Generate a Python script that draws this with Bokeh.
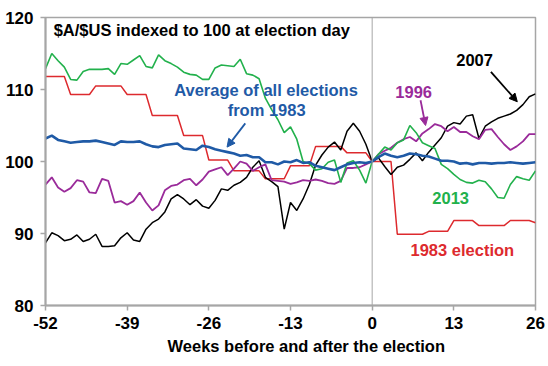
from bokeh.plotting import figure
from bokeh.models import Range1d, Span, Arrow, NormalHead, FixedTicker, Label, Title
from bokeh.embed import file_html
from bokeh.resources import INLINE

weeks = list(range(-52, 27))

e1983 = [111.8, 111.8, 111.8, 111.8, 109.3, 109.3, 109.3, 109.3,
         110.5, 110.5, 110.5, 110.5, 110.5, 109.3, 109.3, 109.3, 109.3,
         106.4, 106.4, 106.4, 106.4, 106.4, 103.6, 103.6, 103.6, 103.6,
         100.2, 100.2, 100.2, 100.2, 98.7, 98.7, 98.7, 98.7, 98.7,
         97.6, 97.6, 97.6, 97.6, 99.4, 99.4, 99.4, 99.4,
         102.1, 102.1, 102.1, 102.1, 102.1, 101.2, 101.2, 101.2, 101.2,
         100.0, 100.0, 100.0, 100.0, 89.9, 89.9, 89.9, 89.9, 89.9,
         90.3, 90.3, 90.3, 90.3, 91.8, 91.8, 91.8, 91.8,
         91.1, 91.1, 91.1, 91.1, 91.1, 91.8, 91.8, 91.8, 91.8, 91.5]

average = [103.2, 103.6, 103.0, 102.8, 102.6, 102.7, 102.8, 102.8, 102.9, 102.7,
           102.5, 102.3, 102.8, 102.7, 102.7, 102.8, 102.4, 102.1, 102.0, 102.3,
           102.4, 102.5, 101.8, 101.7, 101.6, 102.2, 102.0, 101.7, 101.5, 101.3,
           101.1, 100.8, 100.9, 100.6, 100.6, 99.9, 99.9, 99.6, 100.0, 99.9,
           100.2, 99.8, 99.9, 99.4, 99.2, 99.0, 98.8, 99.2, 99.6, 99.8,
           99.9, 99.8, 100.0, 100.6, 101.1, 100.8, 100.6, 100.8, 101.1, 101.0,
           100.8, 100.7, 100.4, 100.1, 100.1, 100.0, 99.7, 99.8, 99.6, 99.8,
           99.8, 99.7, 99.8, 99.8, 99.9, 99.8, 99.7, 99.8, 99.9]

e2013 = [112.9, 115.0, 114.0, 113.1, 111.4, 111.3, 112.5, 112.8, 112.8, 112.8,
         112.9, 112.1, 113.6, 113.5, 114.1, 114.7, 113.2, 113.0, 114.8, 114.0,
         113.6, 113.1, 112.4, 112.1, 112.0, 111.4, 111.4, 113.0, 113.4, 113.3,
         113.2, 114.2, 112.2, 112.0, 111.5, 108.8, 107.2, 105.8, 104.0, 104.8,
         103.1, 100.0, 99.7, 98.8, 99.0, 99.9, 100.2, 97.1, 99.8, 100.1,
         98.8, 97.0, 100.0, 101.0, 102.0, 101.6, 102.6, 103.0, 105.0, 104.0,
         102.6, 102.2, 101.8, 99.6, 99.0, 98.2, 97.5, 97.1, 97.0, 97.4,
         97.2, 96.2, 95.0, 94.9, 96.8, 97.9, 97.6, 97.4, 98.7]

e1996 = [96.8, 97.8, 96.4, 95.8, 96.3, 97.4, 97.2, 95.7, 95.6, 97.6,
         97.3, 94.3, 94.5, 94.0, 94.5, 95.7, 94.3, 93.2, 93.9, 96.0,
         96.6, 96.8, 97.4, 97.6, 96.7, 97.5, 98.6, 98.9, 99.2, 98.1,
         99.0, 100.0, 99.7, 98.7, 99.2, 99.6, 97.4, 97.3, 97.2, 96.9,
         97.1, 97.4, 97.3, 97.5, 97.3, 97.0, 96.9, 97.3, 99.1, 99.1,
         99.2, 99.6, 100.0, 101.0, 101.5, 101.9, 102.6, 103.1, 103.4, 102.8,
         103.9, 104.5, 105.2, 104.9, 104.2, 104.8, 104.1, 104.1, 103.5, 103.1,
         104.4, 104.5, 103.4, 102.4, 101.6, 102.1, 102.8, 103.8, 103.8]

e2007 = [88.7, 90.1, 89.7, 89.0, 89.2, 89.8, 88.9, 89.2, 89.9, 88.2,
         88.2, 88.3, 89.4, 90.1, 89.1, 88.9, 90.6, 91.5, 92.0, 93.0,
         94.8, 95.4, 94.8, 94.0, 94.7, 93.8, 93.5, 94.6, 96.2, 96.0,
         96.7, 97.1, 97.8, 99.2, 100.1, 97.8, 97.2, 96.5, 90.6, 94.3,
         93.2, 94.8, 96.8, 99.5, 100.9, 102.0, 102.7, 101.6, 104.2, 105.3,
         104.2, 102.4, 100.0, 100.5, 99.3, 98.2, 99.2, 99.5, 100.3, 101.2,
         100.1, 101.3, 102.3, 103.3, 104.9, 105.4, 105.2, 106.3, 106.5, 103.2,
         104.9, 105.5, 106.0, 106.3, 106.6, 107.1, 107.9, 109.0, 109.4]

x_ticks = [-52, -39, -26, -13, 0, 13, 26]
x_tick_labels = ["-52", "-39", "-26", "-13", "0", "13", "26"]
y_ticks = [80, 90, 100, 110, 120]
x_title = "Weeks before and after the election"

RED = "#dd2a2e"
BLUE = "#1f5aa6"
GREEN = "#22b14c"
PURPLE = "#9a2b9a"
BLACK = "#000000"
GRAY = "#a6a6a6"
FONT = "Liberation Sans"

p = figure(width=548, height=366, output_backend="svg", toolbar_location=None,
           x_range=Range1d(-52, 26), y_range=Range1d(80, 120),
           min_border_left=45, min_border_right=13, min_border_top=17,
           min_border_bottom=61)

p.xgrid.visible = False
p.ygrid.visible = False
p.outline_line_color = GRAY
p.outline_line_width = 1.5
p.background_fill_color = "white"
p.border_fill_color = "white"

for ax in (p.xaxis[0], p.yaxis[0]):
    ax.axis_line_color = GRAY
    ax.axis_line_width = 2
    ax.major_tick_line_color = GRAY
    ax.major_tick_line_width = 1.5
    ax.major_tick_out = 5
    ax.major_tick_in = 0
    ax.minor_tick_line_color = None
    ax.major_label_text_font = FONT
    ax.major_label_text_font_style = "bold"
    ax.major_label_text_font_size = "17px"
    ax.major_label_text_color = BLACK

p.xaxis.ticker = FixedTicker(ticks=x_ticks)
p.xaxis.major_label_overrides = dict(zip(x_ticks, x_tick_labels))
p.yaxis.ticker = FixedTicker(ticks=y_ticks)
p.xaxis.major_label_standoff = 6
p.yaxis.major_label_standoff = 7

p.add_layout(Title(text=x_title, align="left", offset=122, standoff=6,
                   text_font=FONT, text_font_style="bold",
                   text_font_size="16.5px", text_color=BLACK), "below")

p.add_layout(Span(location=0, dimension="height", line_color=GRAY, line_width=1))

p.line(weeks, e1983, line_color=RED, line_width=1.5)
p.line(weeks, e2007, line_color=BLACK, line_width=1.5)
p.line(weeks, e1996, line_color=PURPLE, line_width=1.8)
p.line(weeks, e2013, line_color=GREEN, line_width=1.6)
p.line(weeks, average, line_color=BLUE, line_width=2.6)


def label(x, y, text, color, align="center"):
    p.add_layout(Label(x=x, y=y, text=text, text_color=color, text_font=FONT,
                       text_font_style="bold", text_font_size="16.5px",
                       text_align=align, text_baseline="middle"))


label(-50.7, 118.3, "$A/$US indexed to 100 at election day", BLACK, "left")
label(-16.9, 109.9, "Average of all elections", BLUE)
label(-16.8, 107.1, "from 1983", BLUE)
label(6.6, 109.7, "1996", PURPLE)
label(16.3, 114.1, "2007", BLACK)
label(12.5, 95.0, "2013", GREEN)
label(14.35, 87.7, "1983 election", RED)


def arrow(x0, y0, x1, y1, color):
    p.add_layout(Arrow(end=NormalHead(size=8, fill_color=color, line_color=color),
                       x_start=x0, y_start=y0, x_end=x1, y_end=y1,
                       line_color=color, line_width=1.8))


arrow(-20.2, 105.3, -23.1, 102.0, BLUE)
arrow(7.7, 108.5, 8.5, 105.0, PURPLE)
arrow(18.9, 112.45, 23.1, 108.3, BLACK)

open("out.html", "w").write(file_html(p, INLINE))
